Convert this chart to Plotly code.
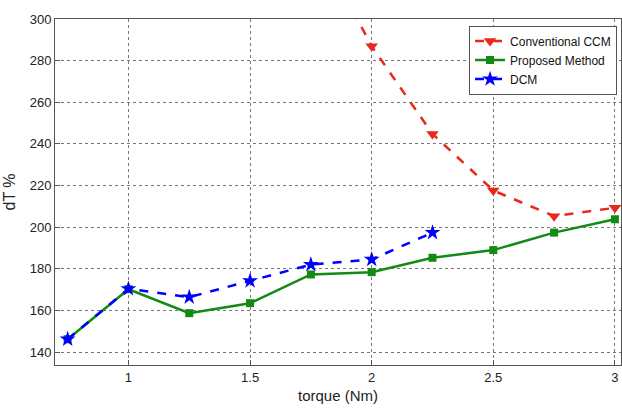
import plotly.graph_objects as go

# Torque operating points (Nm)
torque_ccm = [1.75, 2.0, 2.25, 2.5, 2.75, 3.0]
torque_prop = [0.75, 1.0, 1.25, 1.5, 1.75, 2.0, 2.25, 2.5, 2.75, 3.0]
torque_dcm = [0.75, 1.0, 1.25, 1.5, 1.75, 2.0, 2.25]

# Torque ripple dT (%)
dt_ccm = [342, 286.9, 244.8, 217.6, 205.3, 209.3]
dt_prop = [146.2, 170.2, 158.7, 163.5, 177.3, 178.4, 185.3, 189.0, 197.4, 203.8]
dt_dcm = [146.2, 170.4, 166.4, 174.2, 182.0, 184.5, 197.4]

y_ticks = [140, 160, 180, 200, 220, 240, 260, 280, 300]
x_ticks = [1, 1.5, 2, 2.5, 3]
x_tick_text = ["1", "1.5", "2", "2.5", "3"]

fig = go.Figure()

fig.add_trace(go.Scatter(
    x=torque_ccm, y=dt_ccm, name="Conventional CCM", mode="lines+markers",
    line=dict(color="#e8291c", width=2.5, dash="dash"),
    marker=dict(symbol="triangle-down", size=11, color="#e8291c"),
))
fig.add_trace(go.Scatter(
    x=torque_prop, y=dt_prop, name="Proposed Method", mode="lines+markers",
    line=dict(color="#138a13", width=2.5),
    marker=dict(symbol="square", size=8, color="#138a13"),
))
fig.add_trace(go.Scatter(
    x=torque_dcm, y=dt_dcm, name="DCM", mode="lines+markers",
    line=dict(color="#0000ff", width=2.5, dash="dash"),
    marker=dict(symbol="star", size=12, color="#0000ff"),
))

axis_common = dict(
    showgrid=True, gridcolor="#777777", griddash="dot", gridwidth=1,
    showline=True, linecolor="#555555", linewidth=1, mirror=True,
    ticks="inside", ticklen=5, tickcolor="#555555",
    zeroline=False, automargin=False,
    tickfont=dict(family="Liberation Sans, Arial", size=13, color="#222222"),
)

fig.update_xaxes(
    range=[0.698, 3.025], tickvals=x_ticks, ticktext=x_tick_text,
    title=dict(text="torque (Nm)", standoff=6,
               font=dict(family="Liberation Sans, Arial", size=15, color="#222222")),
    **axis_common,
)
fig.update_yaxes(
    range=[133.8, 300], tickvals=y_ticks,
    title=dict(text="dT %", standoff=10,
               font=dict(family="Liberation Sans, Arial", size=16, color="#222222")),
    **axis_common,
)

fig.update_layout(
    width=622, height=411,
    margin=dict(l=55, r=1, t=19, b=46, autoexpand=False),
    paper_bgcolor="white", plot_bgcolor="white",
    showlegend=True,
    legend=dict(
        x=0.993, y=0.981, xanchor="right", yanchor="top",
        bgcolor="white", bordercolor="#555555", borderwidth=1,
        font=dict(family="Liberation Sans, Arial", size=12, color="#111111"),
        itemwidth=30, tracegroupgap=0,
    ),
)

fig.write_html("out.html")
